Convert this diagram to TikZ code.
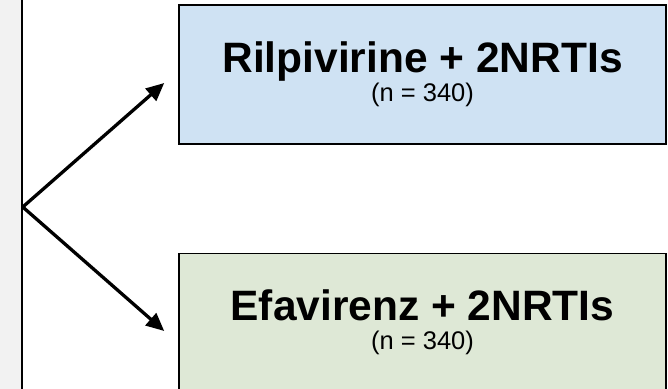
\documentclass[tikz,border=0pt]{standalone}
\usepackage{fontspec}
\setmainfont{Liberation Sans}
\usepackage{tikz}
\usetikzlibrary{calc,positioning,arrows.meta}
\definecolor{poolgray}{RGB}{242,242,242}
\definecolor{armblue}{RGB}{207,226,243}
\definecolor{armgreen}{RGB}{222,232,214}
\tikzset{
node distance=108pt, % gap between the two arm boxes
armbox/.style={draw=black, line width=1.5pt, minimum width=487pt, align=center,
  font=\fontsize{25.5}{29}\selectfont},
%poolbox/.style={draw, fill=poolgray},
split/.style={-{Triangle[length=18pt,width=16pt]}, line width=3.3pt},
}
\newcommand{\armname}[1]{{\fontsize{42.5}{42.5}\selectfont\bfseries #1}}

\begin{document}
\begin{tikzpicture}[x=1pt,y=-1pt]
   \useasboundingbox (0,0) rectangle (668,388);
   \clip (0,0) rectangle (668,388);
   \node[draw=black, line width=1.5pt, fill=poolgray, minimum width=42pt, minimum height=430pt,
     inner sep=0pt] (pool) at (1,207) {};
   \node[armbox, fill=armblue, minimum height=139pt] (arm_1) at (422.5,74.5)
     {\armname{Rilpivirine + 2NRTIs}\\(n = 340)};
   \node[armbox, fill=armgreen, minimum height=138pt] (arm_2) [below=of arm_1]
     {\armname{Efavirenz + 2NRTIs}\\(n = 340)};
   \coordinate (in_1) at ($(arm_1.west)+(-14,8.5)$);
   \coordinate (in_2) at ($(arm_2.west)+(-14,8.5)$);
   \draw[split] (pool.east) -- (in_1);
   \draw[split] (pool.east) -- (in_2);
\end{tikzpicture}
\end{document}
